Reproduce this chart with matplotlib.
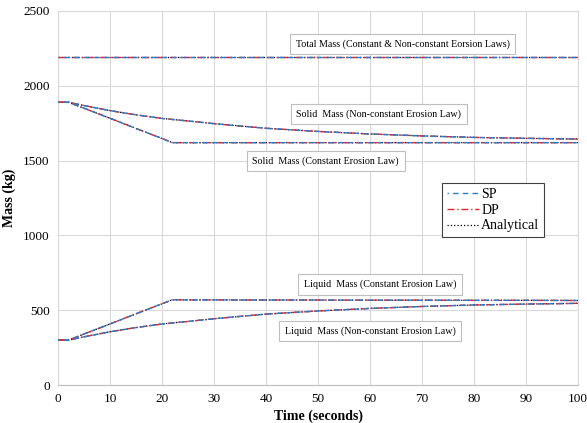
import matplotlib.pyplot as plt
import numpy as np

plt.rcParams['font.family'] = ['Liberation Serif', 'DejaVu Serif']

# time samples (seconds)
t = [0, 2, 5, 10, 15, 20, 22, 25, 30, 40, 50, 60, 70, 80, 90, 100]

total_mass = [2190, 2190, 2190, 2190, 2190, 2190, 2190, 2190, 2190, 2190, 2190, 2190, 2190, 2190, 2190, 2190]
solid_const = [1890, 1890, 1850, 1783, 1715, 1648, 1620, 1620, 1620, 1620, 1620, 1620, 1620, 1620, 1620, 1620]
liquid_const = [300, 300, 341, 408, 476, 543, 570, 569, 569, 568, 568, 567, 567, 566, 566, 565]
liquid_nonconst = [300, 300, 322, 356, 384, 408, 415, 425, 443, 474, 495, 512, 525, 535, 541, 546]
solid_nonconst = [1890, 1890, 1868, 1834, 1806, 1782, 1775, 1765, 1747, 1716, 1695, 1678, 1665, 1655, 1649, 1644]

series = [total_mass, solid_const, solid_nonconst, liquid_const, liquid_nonconst]

notes = [
    ("Total Mass (Constant & Non-constant Eorsion Laws)", 66.3, 2279),
    ("Solid  Mass (Non-constant Erosion Law)", 61.7, 1811),
    ("Solid  Mass (Constant Erosion Law)", 51.5, 1497),
    ("Liquid  Mass (Constant Erosion Law)", 61.9, 672),
    ("Liquid  Mass (Non-constant Erosion Law)", 60.0, 361),
]

fig = plt.figure(figsize=(5.87, 4.23), dpi=100)
ax = fig.add_axes([0.0988, 0.0898, 0.8859, 0.8842])

for i, s in enumerate(series):
    ax.plot(t, s, color='black', linestyle=':', linewidth=0.9,
            label='Analytical' if i == 0 else None, zorder=2)
    ax.plot(t, s, color='#e8212a', linestyle=(0, (5, 2, 1, 2)), linewidth=1.0,
            label='DP' if i == 0 else None, zorder=3)
    ax.plot(t, s, color='#1f7fd0', linestyle=(3, (4, 3)), linewidth=1.0,
            label='SP' if i == 0 else None, zorder=4)

for txt, x, y in notes:
    ax.text(x, y, txt, fontsize=7.2, ha='center', va='center', zorder=5,
            bbox=dict(boxstyle='square,pad=0.55', fc='white', ec='#bfbfbf', lw=0.8))

ax.set_xlim(0, 100)
ax.set_ylim(0, 2500)
ax.set_xticks(np.arange(0, 101, 10))
ax.set_yticks(np.arange(0, 2501, 500))
ax.grid(True, color='#d9d9d9', linewidth=0.8)
ax.set_axisbelow(True)
for sp in ax.spines.values():
    sp.set_color('#d9d9d9')
ax.spines['bottom'].set_color('#bfbfbf')
ax.tick_params(length=0, labelsize=9.5, pad=6)
ax.set_xlabel("Time (seconds)", fontsize=10, fontweight='bold', labelpad=3)
ax.set_ylabel("Mass (kg)", fontsize=10, fontweight='bold', labelpad=5)

# legend order: SP, DP, Analytical
handles, labels = ax.get_legend_handles_labels()
order = [labels.index('SP'), labels.index('DP'), labels.index('Analytical')]
leg = ax.legend([handles[k] for k in order], [labels[k] for k in order],
                loc='upper left', bbox_to_anchor=(0.738, 0.54), borderaxespad=0,
                fontsize=10, fancybox=False, framealpha=1, edgecolor='#404040',
                handlelength=2.3, handletextpad=0.2, borderpad=0.35, labelspacing=0.2)
leg.get_frame().set_linewidth(0.8)

fig.savefig("out.png", dpi=100)
